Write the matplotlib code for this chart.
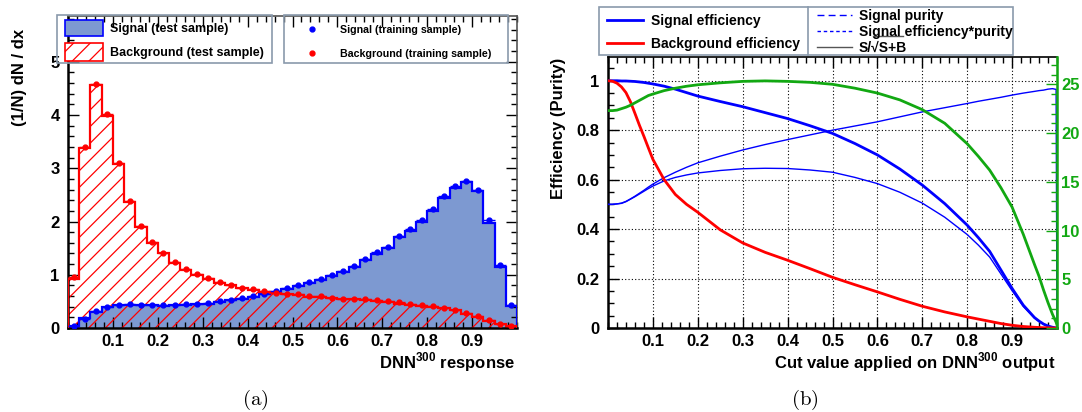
import numpy as np
import matplotlib.pyplot as plt
from matplotlib.patches import Rectangle
from matplotlib.ticker import MultipleLocator, FixedLocator, FuncFormatter

plt.rcParams['font.family'] = ['Liberation Sans', 'DejaVu Sans']
plt.rcParams['font.weight'] = 'bold'
plt.rcParams['mathtext.fontset'] = 'custom'
plt.rcParams['mathtext.rm'] = 'Liberation Sans:bold'
plt.rcParams['mathtext.bf'] = 'Liberation Sans:bold'
plt.rcParams['hatch.linewidth'] = 0.9

# --- (a) DNN response histograms, 40 bins of 0.025 ---
bin_edges = np.arange(41) * 0.025

sig_test = [0.03, 0.18, 0.30, 0.39, 0.43, 0.44, 0.43, 0.43, 0.42, 0.43,
            0.44, 0.45, 0.46, 0.49, 0.52, 0.54, 0.58, 0.63, 0.68, 0.73,
            0.78, 0.84, 0.90, 0.97, 1.05, 1.15, 1.27, 1.39, 1.51, 1.70,
            1.82, 1.99, 2.20, 2.44, 2.63, 2.74, 2.58, 1.98, 1.14, 0.41]
bkg_test = [0.92, 3.39, 4.56, 3.99, 3.08, 2.36, 1.90, 1.60, 1.40, 1.23,
            1.08, 1.00, 0.92, 0.85, 0.80, 0.75, 0.72, 0.68, 0.65, 0.63,
            0.62, 0.59, 0.58, 0.56, 0.54, 0.54, 0.525, 0.51, 0.49, 0.46,
            0.44, 0.42, 0.40, 0.37, 0.34, 0.27, 0.21, 0.13, 0.07, 0.03]
sig_train = [0.03, 0.17, 0.31, 0.40, 0.44, 0.45, 0.44, 0.44, 0.43, 0.44,
             0.45, 0.45, 0.47, 0.50, 0.53, 0.56, 0.60, 0.64, 0.70, 0.75,
             0.80, 0.86, 0.92, 0.99, 1.07, 1.16, 1.30, 1.42, 1.53, 1.73,
             1.86, 2.02, 2.23, 2.47, 2.66, 2.76, 2.60, 2.02, 1.18, 0.43]
bkg_train = [0.95, 3.40, 4.58, 4.01, 3.10, 2.38, 1.92, 1.62, 1.41, 1.24,
             1.10, 1.01, 0.93, 0.86, 0.81, 0.76, 0.73, 0.69, 0.66, 0.64,
             0.63, 0.61, 0.60, 0.57, 0.55, 0.55, 0.54, 0.52, 0.50, 0.48,
             0.46, 0.44, 0.41, 0.38, 0.34, 0.29, 0.23, 0.15, 0.08, 0.04]

# --- (b) cut efficiencies ---
cut = [0, .01, .02, .03, .04, .05, .06, .07, .08, .09, .1, .125, .15, .175,
       .2, .25, .3, .35, .4, .45, .5, .55, .6, .65, .7, .75, .8, .825, .85,
       .875, .9, .925, .95, .96, .97, .98, .99, .998, 1.0]
sig_eff = [1.0, 1.0, 1.0, 0.999, 0.999, 0.998, 0.997, 0.995, 0.993, 0.990,
           0.987, 0.978, 0.966, 0.952, 0.938, 0.916, 0.895, 0.871, 0.847,
           0.818, 0.787, 0.746, 0.700, 0.643, 0.578, 0.503, 0.416, 0.365,
           0.310, 0.235, 0.160, 0.092, 0.042, 0.028, 0.016, 0.008, 0.003,
           0.0005, 0.0]
bkg_eff = [1.0, 0.998, 0.990, 0.975, 0.952, 0.915, 0.868, 0.820, 0.775,
           0.728, 0.682, 0.600, 0.540, 0.500, 0.468, 0.397, 0.344, 0.306,
           0.274, 0.240, 0.205, 0.175, 0.146, 0.116, 0.088, 0.065, 0.045,
           0.036, 0.027, 0.018, 0.011, 0.006, 0.003, 0.002, 0.001, 0.001,
           0.0, 0.0, 0.0]
purity = [0.500, 0.500, 0.502, 0.505, 0.512, 0.522, 0.533, 0.545, 0.557,
          0.570, 0.582, 0.608, 0.630, 0.650, 0.668, 0.695, 0.720, 0.742,
          0.762, 0.781, 0.800, 0.817, 0.834, 0.854, 0.874, 0.891, 0.908,
          0.917, 0.925, 0.933, 0.942, 0.950, 0.957, 0.960, 0.962, 0.966,
          0.968, 0.965, 0.0]
eff_pur = [0.500, 0.500, 0.502, 0.504, 0.511, 0.521, 0.531, 0.542, 0.553,
           0.564, 0.574, 0.595, 0.609, 0.619, 0.627, 0.637, 0.644, 0.646,
           0.645, 0.639, 0.630, 0.609, 0.584, 0.549, 0.505, 0.448, 0.378,
           0.335, 0.287, 0.219, 0.151, 0.087, 0.040, 0.027, 0.015, 0.008,
           0.003, 0.0005, 0.0]
signif = [22.3, 22.3, 22.35, 22.5, 22.65, 22.85, 23.1, 23.35, 23.6, 23.85,
          24.0, 24.35, 24.6, 24.8, 24.95, 25.15, 25.3, 25.35, 25.3, 25.2,
          25.0, 24.6, 24.1, 23.4, 22.4, 21.0, 18.9, 17.6, 16.2, 14.4, 12.4,
          9.6, 6.5, 5.3, 3.9, 2.6, 1.4, 0.6, 0.3]

x_ticks = [0.1, 0.2, 0.3, 0.4, 0.5, 0.6, 0.7, 0.8, 0.9]

fill_blue = '#7d99d1'
green = '#12a812'
frame_grey = '#8a9aac'

W, H = 1082, 412
fig = plt.figure(figsize=(W / 100, H / 100), dpi=100)

def px_axes(x0, y0, x1, y1):
    return fig.add_axes([x0 / W, 1 - y1 / H, (x1 - x0) / W, (y1 - y0) / H])

# ---------------- panel (a) ----------------
ax1 = px_axes(68, 16, 517, 328)
centers = bin_edges[:-1] + 0.0125
ax1.stairs(sig_test, bin_edges, fill=True, facecolor=fill_blue, edgecolor='none', zorder=1)
ax1.stairs(bkg_test, bin_edges, fill=True, facecolor='none', edgecolor='red',
           hatch='//', lw=0, zorder=2)
ax1.stairs(sig_test, bin_edges, color='blue', lw=1.6, zorder=3)
ax1.stairs(bkg_test, bin_edges, color='red', lw=1.6, zorder=3)
ax1.errorbar(centers, sig_train, xerr=0.0125, fmt='o', ms=3.5, color='blue',
             elinewidth=1.0, capsize=0, zorder=4)
ax1.errorbar(centers, bkg_train, xerr=0.0125, fmt='o', ms=3.5, color='red',
             elinewidth=1.0, capsize=0, zorder=4)
ax1.set_xlim(0, 1)
ax1.set_ylim(0, 5.86)
ax1.xaxis.set_major_locator(FixedLocator(x_ticks))
ax1.xaxis.set_minor_locator(MultipleLocator(0.02))
ax1.xaxis.set_major_formatter(FuncFormatter(lambda v, p: f'{v:.1f}'))
ax1.yaxis.set_major_locator(MultipleLocator(1))
ax1.yaxis.set_minor_locator(MultipleLocator(0.2))
ax1.yaxis.set_major_formatter(FuncFormatter(lambda v, p: f'{v:g}'))
ax1.tick_params(which='both', direction='in', top=True, right=True, labelsize=12,
                width=1.0)
ax1.tick_params(which='major', length=8)
ax1.tick_params(which='minor', length=4)
ax1.tick_params(axis='x', pad=4)
ax1.tick_params(axis='y', pad=6)
for s in ['left', 'bottom']:
    ax1.spines[s].set_linewidth(1.8)
for s in ['top', 'right']:
    ax1.spines[s].set_linewidth(1.2)
    ax1.spines[s].set_color('#555555')

# ---------------- panel (b) ----------------
ax2 = px_axes(608, 57, 1057, 328)
ax2.plot(cut, purity, color='blue', lw=1.0, zorder=3)
ax2.plot(cut, eff_pur, color='blue', lw=1.0, zorder=3)
ax2.plot(cut, sig_eff, color='blue', lw=2.0, zorder=3)
ax2.plot(cut, bkg_eff, color='red', lw=2.0, zorder=3)
ax2.set_xlim(0, 1)
ax2.set_ylim(0, 1.096)
ax2.xaxis.set_major_locator(FixedLocator(x_ticks))
ax2.xaxis.set_minor_locator(MultipleLocator(0.02))
ax2.xaxis.set_major_formatter(FuncFormatter(lambda v, p: f'{v:.1f}'))
ax2.yaxis.set_major_locator(MultipleLocator(0.2))
ax2.yaxis.set_minor_locator(MultipleLocator(0.05))
ax2.yaxis.set_major_formatter(FuncFormatter(lambda v, p: f'{v:g}'))
ax2.tick_params(which='both', direction='in', top=True, right=False, labelsize=12,
                width=1.0)
ax2.tick_params(which='major', length=8)
ax2.tick_params(which='minor', length=4)
ax2.tick_params(axis='x', pad=4)
ax2.tick_params(axis='y', pad=6)
ax2.grid(True, which='major', color='black', lw=0.8, linestyle=(0, (1, 2)))
for s in ['left', 'bottom']:
    ax2.spines[s].set_linewidth(1.8)
ax2.spines['top'].set_linewidth(1.2)

ax3 = ax2.twinx()
ax3.plot(cut, signif, color=green, lw=2.0, zorder=3)
ax3.set_ylim(0, 27.8)
ax3.yaxis.set_major_locator(MultipleLocator(5))
ax3.yaxis.set_minor_locator(MultipleLocator(1))
ax3.tick_params(which='both', direction='in', colors=green, labelsize=12, width=1.0)
ax3.tick_params(which='major', length=8, pad=3)
ax3.tick_params(which='minor', length=4)
ax3.spines['right'].set_color(green)
ax3.spines['right'].set_linewidth(1.8)
for s in ['left', 'top', 'bottom']:
    ax3.spines[s].set_visible(False)

# ---------------- overlay: legends and labels in pixel coordinates ----------------
ov = fig.add_axes([0, 0, 1, 1], zorder=10)
ov.set_xlim(0, W)
ov.set_ylim(H, 0)
ov.axis('off')
ov.patch.set_alpha(0)

# left legends
ov.add_patch(Rectangle((57, 15), 215, 48, fill=False, ec=frame_grey, lw=1.2))
ov.add_patch(Rectangle((284, 15), 224, 48, fill=False, ec=frame_grey, lw=1.2))
ov.add_patch(Rectangle((65, 20), 38, 16, fc=fill_blue, ec='blue', lw=1.2))
ov.add_patch(Rectangle((65, 43), 38, 18, fc='white', ec='red', hatch='//', lw=1.2))
ov.text(110, 28.5, 'Signal (test sample)', va='center', fontsize=9)
ov.text(110, 52.5, 'Background (test sample)', va='center', fontsize=9)
ov.plot([312], [29], 'o', ms=3.5, color='blue')
ov.plot([312], [53], 'o', ms=3.5, color='red')
ov.text(340, 29.5, 'Signal (training sample)', va='center', fontsize=7.7)
ov.text(340, 53.5, 'Background (training sample)', va='center', fontsize=7.7)

# right legend
ov.add_patch(Rectangle((599, 7), 414, 48, fill=False, ec=frame_grey, lw=1.2))
ov.plot([808, 808], [7, 55], color=frame_grey, lw=1.2)
ov.plot([607, 643], [20, 20], color='blue', lw=2)
ov.plot([607, 643], [43, 43], color='red', lw=2)
ov.text(651, 20.5, 'Signal efficiency', va='center', fontsize=10)
ov.text(651, 44, 'Background efficiency', va='center', fontsize=10)
ov.plot([817, 852], [15, 15], color='blue', lw=1, linestyle=(0, (5, 3)))
ov.plot([817, 852], [31, 31], color='blue', lw=1, linestyle=(0, (2.5, 2)))
ov.plot([817, 852], [47, 47], color='#555555', lw=1)
ov.text(859, 15.5, 'Signal purity', va='center', fontsize=10)
ov.text(859, 31.5, 'Signal efficiency*purity', va='center', fontsize=10)
ov.text(859, 47.5, 'S/\u221aS+B', va='center', fontsize=10)
ov.plot([873, 903], [35.5, 35.5], color='#555555', lw=1)

# axis titles
ov.text(20, 77, '(1/N) dN / dx', rotation=90, ha='center', va='center', fontsize=12)
ov.text(559, 128, 'Efficiency (Purity)', rotation=90, ha='center', va='center',
        fontsize=12)
ov.text(515, 368, r'DNN$^{300}$ response', ha='right', va='baseline', fontsize=12)
ov.text(1055, 368, r'Cut value applied on DNN$^{300}$ output', ha='right',
        va='baseline', fontsize=12)

# captions
ov.text(255, 400, r'$\mathrm{(a)}$', ha='center', va='center', fontsize=15,
        math_fontfamily='cm')
ov.text(805, 400, r'$\mathrm{(b)}$', ha='center', va='center', fontsize=15,
        math_fontfamily='cm')

fig.savefig('out.png', dpi=100)
